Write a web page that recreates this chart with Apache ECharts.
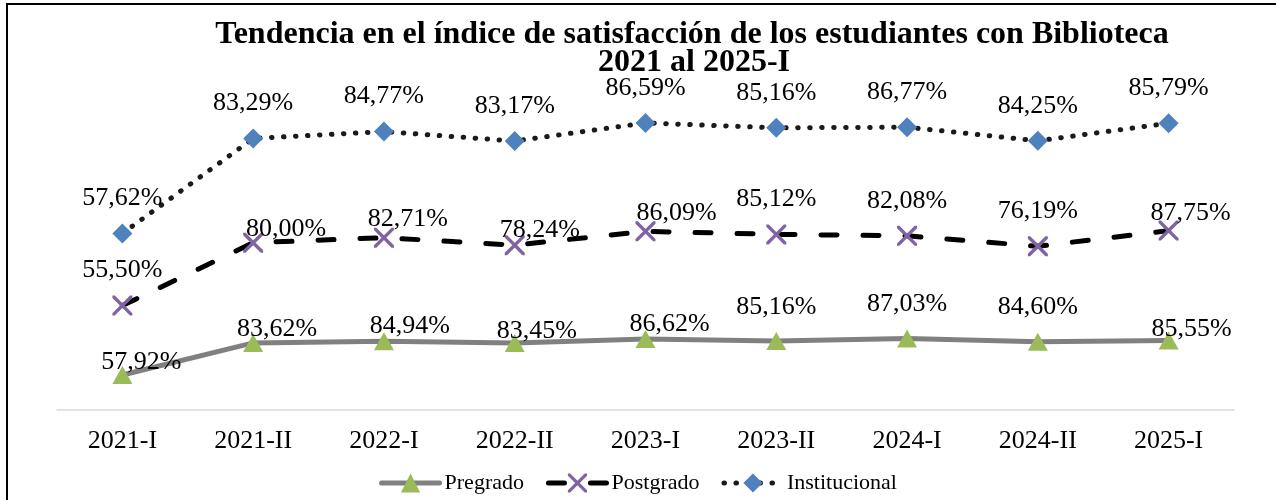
<!DOCTYPE html>
<html>
<head>
<meta charset="utf-8">
<script src="https://cdn.jsdelivr.net/npm/echarts@6/dist/echarts.min.js"></script>
<style>
  html, body { margin: 0; padding: 0; background: #fff; }
  #chart { width: 1276px; height: 500px; }
</style>
</head>
<body>
<div id="chart"></div>
<script>
var categories = ['2021-I', '2021-II', '2022-I', '2022-II', '2023-I', '2023-II', '2024-I', '2024-II', '2025-I'];
var pregrado = [57.92, 83.62, 84.94, 83.45, 86.62, 85.16, 87.03, 84.60, 85.55];
var postgrado = [55.50, 80.00, 82.71, 78.24, 86.09, 85.12, 82.08, 76.19, 87.75];
var institucional = [57.62, 83.29, 84.77, 83.17, 86.59, 85.16, 86.77, 84.25, 85.79];

// label nudges (px) - some labels in the original sit right/below of the point
var pregradoLabelShift = [[19, 21], [24, 20], [26, 19], [22, 22], [24, 19], [0, 0], [0, 0], [0, 0], [23, 23]];
var postgradoLabelShift = [[0, 0], [33, 21], [24, 16], [25, 20], [31, 17], [0, 0], [0, 0], [0, 0], [22, 18]];

var serif = 'Liberation Serif, Times New Roman, serif';
var crossPath = 'path://M0,0L1.2,0L10,8.8L10,10L8.8,10L0,1.2Z M8.8,0L10,0L10,1.2L1.2,10L0,10L0,8.8Z';

function pct(p) {
    return p.value.toFixed(2).replace('.', ',') + '%';
}

function withShift(values, shifts) {
    return values.map(function (v, i) {
        var s = shifts ? shifts[i] : [0, 0];
        return { value: v, label: { offset: s } };
    });
}

var labelBase = {
    show: true,
    position: 'top',
    distance: 12,
    color: '#000',
    fontFamily: serif,
    fontSize: 26,
    formatter: pct
};

var chart = echarts.init(document.getElementById('chart'));

chart.setOption({
    animation: false,
    backgroundColor: '#fff',
    graphic: [
        { type: 'line', shape: { x1: 6, y1: 4, x2: 1276, y2: 4 }, style: { stroke: '#000', lineWidth: 2 } },
        { type: 'line', shape: { x1: 7, y1: 3, x2: 7, y2: 500 }, style: { stroke: '#000', lineWidth: 2 } },
        {
            type: 'text', x: 692, y: 35,
            style: {
                text: 'Tendencia en el índice de satisfacción de los estudiantes con Biblioteca',
                font: 'bold 32px ' + serif, fill: '#000', textAlign: 'center', textVerticalAlign: 'middle'
            }
        },
        {
            type: 'text', x: 694, y: 63,
            style: {
                text: '2021 al 2025-I',
                font: 'bold 32px ' + serif, fill: '#000', textAlign: 'center', textVerticalAlign: 'middle'
            }
        }
    ],
    legend: {
        left: 'center',
        top: 467,
        itemWidth: 58,
        itemHeight: 24,
        itemGap: 22,
        lineStyle: { width: 'inherit' },
        textStyle: { fontFamily: serif, fontSize: 22, color: '#000' },
        data: ['Pregrado', 'Postgrado', 'Institucional']
    },
    grid: {
        left: 57,
        right: 42,
        top: 72,
        bottom: 90
    },
    xAxis: {
        type: 'category',
        data: categories,
        boundaryGap: true,
        axisLine: { lineStyle: { color: '#d9d9d9', width: 1.5 } },
        axisTick: { show: false },
        axisLabel: { color: '#000', fontFamily: serif, fontSize: 26, margin: 18 }
    },
    yAxis: {
        type: 'value',
        min: 30,
        max: 300,
        show: false,
        splitLine: { show: false }
    },
    series: [{
        name: 'Pregrado',
        type: 'line',
        stack: 'total',
        data: withShift(pregrado, pregradoLabelShift),
        symbol: 'triangle',
        symbolSize: [20, 18],
        itemStyle: { color: '#9bbb59', borderWidth: 0 },
        lineStyle: { color: '#808080', width: 5, cap: 'round' },
        label: labelBase,
        z: 3
    }, {
        name: 'Postgrado',
        type: 'line',
        stack: 'total',
        data: withShift(postgrado, postgradoLabelShift),
        symbol: crossPath,
        symbolSize: 20,
        itemStyle: { color: '#8064a2', borderWidth: 0 },
        lineStyle: { color: '#000', width: 5, type: [16, 26], cap: 'round' },
        label: labelBase,
        z: 3
    }, {
        name: 'Institucional',
        type: 'line',
        stack: 'total',
        data: withShift(institucional, null),
        symbol: 'diamond',
        symbolSize: 20,
        itemStyle: { color: '#4f81bd', borderWidth: 0 },
        lineStyle: { color: '#1a1a1a', width: 5, type: [0.5, 11.5], cap: 'round' },
        label: labelBase,
        z: 3
    }]
});
</script>
</body>
</html>
